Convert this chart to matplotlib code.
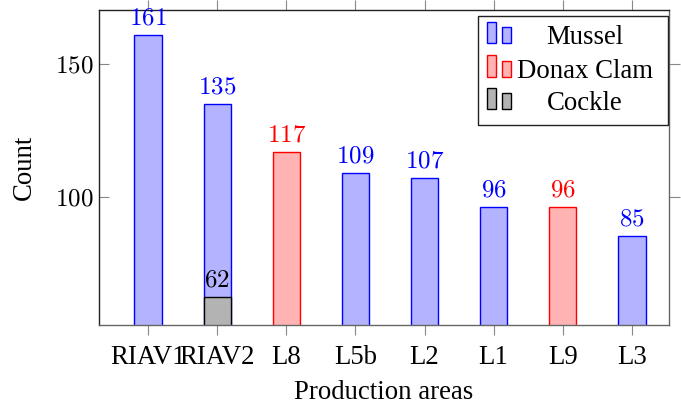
import matplotlib
matplotlib.use("Agg")
import matplotlib.pyplot as plt
from matplotlib.patches import Rectangle

# Data
categories = ["RIAV1", "RIAV2", "L8", "L5b", "L2", "L1", "L9", "L3"]
mussel = [161, 135, None, 109, 107, 96, None, 85]
donax = [None, None, 117, None, None, None, 96, None]
cockle = [None, 62, None, None, None, None, None, None]
series_names = ["Mussel", "Donax Clam", "Cockle"]
y_ticks = [100, 150]

plt.rcParams["font.family"] = ["Liberation Serif", "DejaVu Serif"]
plt.rcParams["mathtext.fontset"] = "cm"

TXT = 19.3   # roman text size
NUM = 18     # math-number size

W, H = 681, 407
fig = plt.figure(figsize=(W / 100, H / 100), dpi=100)
ax_l, ax_r, ax_t, ax_b = 99, 669, 9.5, 325
ax = fig.add_axes([ax_l / W, 1 - ax_b / H, (ax_r - ax_l) / W, (ax_b - ax_t) / H])

styles = [
    dict(face="#b3b3ff", edge="#0000ff", text="#0000ff"),
    dict(face="#ffb3b3", edge="#ff0000", text="#ff0000"),
    dict(face="#b3b3b3", edge="#000000", text="#000000"),
]
bar_w = 0.4
for vals, st in zip([mussel, donax, cockle], styles):
    xs = [i for i, v in enumerate(vals) if v is not None]
    ys = [v for v in vals if v is not None]
    ax.bar(xs, ys, width=bar_w, color=st["face"], edgecolor=st["edge"],
           linewidth=1.0, zorder=2)
    for x, y in zip(xs, ys):
        ax.annotate(f"${y}$", (x, y), xytext=(0, 4.0), textcoords="offset points",
                    ha="center", va="bottom", fontsize=NUM, color=st["text"],
                    zorder=3)

ax.set_xlim(-0.714, 7.54)
ax.set_ylim(51.5, 170.7)
ax.set_xticks(range(len(categories)))
ax.set_xticklabels(categories, fontsize=TXT)
ax.set_yticks(y_ticks)
ax.set_yticklabels([f"${t}$" for t in y_ticks], fontsize=NUM)

ax.tick_params(axis="x", which="major", direction="out", top=True, bottom=True,
               length=7.5, width=0.8, color="#888888", pad=7)
ax.tick_params(axis="y", which="major", direction="in", left=True, right=False,
               length=7.5, width=0.8, color="#888888", pad=4)
sec = ax.secondary_yaxis("right")
sec.set_yticks(y_ticks)
sec.set_yticklabels([])
sec.tick_params(direction="out", length=8, width=0.8, color="#888888")
sec.spines["right"].set_visible(False)

for side, c in [("left", "#222222"), ("top", "#222222"),
                ("bottom", "#666666"), ("right", "#666666")]:
    ax.spines[side].set_color(c)
    ax.spines[side].set_linewidth(1.0)

ax.set_xlabel("Production areas", fontsize=TXT, labelpad=7)
ax.set_ylabel("Count", fontsize=TXT, labelpad=13)


def fx(px):
    return px / W


def fy(py):
    return 1 - py / H


# Legend box with twin-bar markers and centred entry text
box = Rectangle((fx(478), fy(125)), fx(668) - fx(478), fy(16) - fy(125),
                transform=fig.transFigure, facecolor="white", edgecolor="#222222",
                linewidth=1.0, zorder=10)
fig.add_artist(box)
row_base = [43, 76.5, 109]
for name, st, base in zip(series_names, styles, row_base):
    for x0, h in [(486.7, 21), (502, 16)]:
        r = Rectangle((fx(x0), fy(base)), fx(9), (h / H),
                      transform=fig.transFigure, facecolor=st["face"],
                      edgecolor=st["edge"], linewidth=1.0, zorder=11)
        fig.add_artist(r)
    fig.text(fx(585), fy(base + 1.5), name, ha="center", va="baseline",
             fontsize=TXT, zorder=12)

fig.savefig("out.png", dpi=100)
